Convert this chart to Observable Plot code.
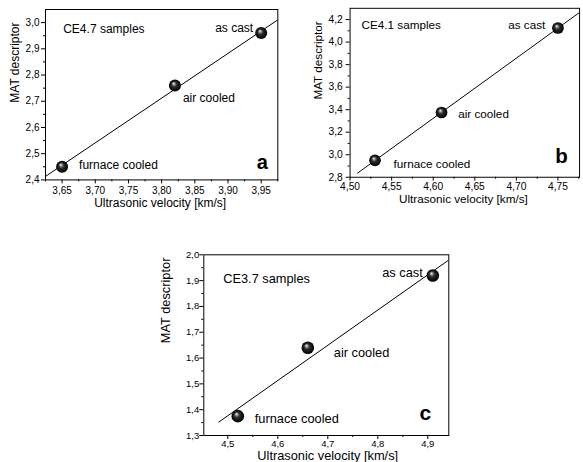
<!DOCTYPE html>
<html><head><meta charset="utf-8">
<script src="https://cdn.jsdelivr.net/npm/d3@7"></script>
<script src="https://cdn.jsdelivr.net/npm/@observablehq/plot@0.6"></script>
<style>
html,body{margin:0;padding:0;background:#fff;overflow:hidden;width:583px;height:462px;}
#root{position:relative;width:583px;height:462px;overflow:hidden;background:#fff;}
.panel{position:absolute;}
</style></head><body><div id="root"></div>
<script>
// ---- data ----
const samples = ["furnace cooled", "air cooled", "as cast"];

const titleA = "CE4.7 samples";
const velA = [3.65, 3.82, 3.95];
const matA = [2.45, 2.76, 2.96];
const xTicksA = [3.65, 3.70, 3.75, 3.80, 3.85, 3.90, 3.95];
const xMinorA = [3.625, 3.675, 3.725, 3.775, 3.825, 3.875, 3.925, 3.975];
const yTicksA = [2.4, 2.5, 2.6, 2.7, 2.8, 2.9, 3.0];
const yMinorA = [2.45, 2.55, 2.65, 2.75, 2.85, 2.95];
const fitRangeA = [3.625, 3.975];

const titleB = "CE4.1 samples";
const velB = [4.53, 4.61, 4.75];
const matB = [2.95, 3.375, 4.125];
const xTicksB = [4.50, 4.55, 4.60, 4.65, 4.70, 4.75];
const xMinorB = [4.525, 4.575, 4.625, 4.675, 4.725, 4.775];
const yTicksB = [2.8, 3.0, 3.2, 3.4, 3.6, 3.8, 4.0, 4.2];
const yMinorB = [2.9, 3.1, 3.3, 3.5, 3.7, 3.9, 4.1];
const fitRangeB = [4.509, 4.80];

const titleC = "CE3.7 samples";
const velC = [4.52, 4.66, 4.91];
const matC = [1.375, 1.64, 1.92];
const xTicksC = [4.5, 4.6, 4.7, 4.8, 4.9];
const xMinorC = [4.55, 4.65, 4.75, 4.85];
const yTicksC = [1.3, 1.4, 1.5, 1.6, 1.7, 1.8, 1.9, 2.0];
const yMinorC = [1.35, 1.45, 1.55, 1.65, 1.75, 1.85, 1.95];
const fitRangeC = [4.482, 4.96];

const xTitle = "Ultrasonic velocity [km/s]";
const yTitle = "MAT descriptor";

// ---- helpers ----
const comma = n => d => d.toFixed(n).replace(".", ",");
function fitLine(xs, ys, range) {
  const mx = d3.mean(xs), my = d3.mean(ys);
  const sxy = d3.sum(xs, (x, i) => (x - mx) * (ys[i] - my));
  const sxx = d3.sum(xs, x => (x - mx) ** 2);
  const b = sxy / sxx, a = my - b * mx;
  return range.map(x => ({x, y: a + b * x}));
}

const FONT = "Liberation Sans, Arial, Helvetica, sans-serif";

function panel(cfg) {
  const idx = [0, 1, 2];
  const gid = "sphere-" + cfg.id;
  const marks = [
    Plot.frame({stroke: "black", strokeWidth: 1}),
    Plot.line(fitLine(cfg.vel, cfg.mat, cfg.fit), {x: "x", y: "y", stroke: "black", strokeWidth: 1, clip: true}),
    Plot.axisX(cfg.xMinor, {anchor: "bottom", tickSize: 2, tickFormat: () => "", label: null, stroke: "black"}),
    Plot.axisY(cfg.yMinor, {anchor: "left", tickSize: 2, tickFormat: () => "", label: null, stroke: "black"}),
    Plot.axisX(cfg.xTicks, {anchor: "bottom", tickSize: 4, tickPadding: cfg.xPad, tickFormat: comma(cfg.xDec), fontSize: cfg.tickFont, label: null, stroke: "black", fill: "black"}),
    Plot.axisY(cfg.yTicks, {anchor: "left", tickSize: 4, tickPadding: cfg.yPad, tickFormat: comma(1), fontSize: cfg.tickFont, label: null, stroke: "black", fill: "black"}),
    Plot.dot(idx, {x: i => cfg.vel[i], y: i => cfg.mat[i], r: cfg.r, fill: `url(#${gid})`, stroke: "none"}),
    Plot.text([cfg.title], {frameAnchor: "top-left", text: d => d, dx: cfg.titlePos[0], dy: cfg.titlePos[1], textAnchor: "start", lineAnchor: "middle", fontSize: cfg.font, fill: "black"}),
    Plot.text([cfg.letter], {frameAnchor: "bottom-right", text: d => d, dx: cfg.letterPos[0], dy: cfg.letterPos[1], textAnchor: "end", lineAnchor: "middle", fontSize: cfg.letterFont, fontWeight: "bold", fill: "black"}),
    Plot.text([xTitle], {frameAnchor: "bottom", text: d => d, dx: cfg.xTitlePos[0], dy: cfg.xTitlePos[1], lineAnchor: "middle", fontSize: cfg.font, fill: "black"}),
    Plot.text([yTitle], {frameAnchor: "left", text: d => d, rotate: -90, dx: cfg.yTitlePos[0], dy: cfg.yTitlePos[1], lineAnchor: "middle", fontSize: cfg.font, fill: "black"})
  ];
  idx.forEach(i => {
    marks.push(Plot.text([i], {
      x: j => cfg.vel[j], y: j => cfg.mat[j], text: j => samples[j],
      dx: cfg.labelOff[i][0], dy: cfg.labelOff[i][1],
      textAnchor: i === 2 ? "end" : "start", lineAnchor: "middle", fontSize: cfg.font, fill: "black"
    }));
  });
  const svg = Plot.plot({
    width: cfg.width, height: cfg.height,
    marginLeft: cfg.m[0], marginRight: cfg.m[1], marginTop: cfg.m[2], marginBottom: cfg.m[3],
    x: {domain: cfg.xDomain, label: null},
    y: {domain: cfg.yDomain, label: null},
    style: {fontFamily: FONT, color: "black", background: "transparent", overflow: "visible"},
    marks
  });
  const defs = d3.select(svg).insert("defs", ":first-child");
  const g = defs.append("radialGradient").attr("id", gid)
    .attr("cx", "50%").attr("cy", "50%").attr("r", "50%").attr("fx", "38%").attr("fy", "32%");
  [["0%", "#ffffff"], ["18%", "#9a9a9a"], ["45%", "#2a2a2a"], ["100%", "#000000"]]
    .forEach(([o, c]) => g.append("stop").attr("offset", o).attr("stop-color", c));
  const div = document.createElement("div");
  div.className = "panel";
  div.style.left = cfg.left + "px";
  div.style.top = cfg.top + "px";
  div.appendChild(svg);
  document.getElementById("root").appendChild(div);
}

panel({
  id: "a", left: 0, top: 0, width: 290, height: 215, m: [45, 12.7, 9, 35.6],
  xDomain: [3.625, 3.975], yDomain: [2.4, 3.05],
  vel: velA, mat: matA, fit: fitRangeA, title: titleA, letter: "a",
  xTicks: xTicksA, xMinor: xMinorA, yTicks: yTicksA, yMinor: yMinorA, xDec: 2,
  tickFont: 10, font: 12, letterFont: 20, r: 6, xPad: 3, yPad: 2,
  titlePos: [17.7, 20], letterPos: [-10, -17.5], xTitlePos: [-1.5, 23], yTitlePos: [-30, 8],
  labelOff: [[17, -2], [8, 13], [-8, -5]]
});
panel({
  id: "b", left: 290, top: 0, width: 300, height: 215, m: [61, 4, 8, 34],
  xDomain: [4.5, 4.776], yDomain: [2.8, 4.3],
  vel: velB, mat: matB, fit: fitRangeB, title: titleB, letter: "b",
  xTicks: xTicksB, xMinor: xMinorB, yTicks: yTicksB, yMinor: yMinorB, xDec: 2,
  tickFont: 10.5, font: 12, letterFont: 21, r: 6, xPad: 1.5, yPad: 3.5,
  titlePos: [11.7, 17], letterPos: [-12, -21.7], xTitlePos: [-1.5, 22.5], yTitlePos: [-32.7, 7],
  labelOff: [[19, 3.5], [17, 2], [-13, -2.7]]
});
panel({
  id: "c", left: 150, top: 225, width: 310, height: 237, m: [53.3, 11.7, 29.3, 27],
  xDomain: [4.452, 4.942], yDomain: [1.3, 2.0],
  vel: velC, mat: matC, fit: fitRangeC, title: titleC, letter: "c",
  xTicks: xTicksC, xMinor: xMinorC, yTicks: yTicksC, yMinor: yMinorC, xDec: 1,
  tickFont: 9.5, font: 12.8, letterFont: 21, r: 6.3, xPad: 0.5, yPad: 0.5,
  titlePos: [19.4, 24], letterPos: [-17.6, -22.7], xTitlePos: [1.4, 20.5], yTitlePos: [-38.3, -2],
  labelOff: [[17, 2.7], [26, 5.4], [-10, -2.3]]
});
</script>
</body></html>
